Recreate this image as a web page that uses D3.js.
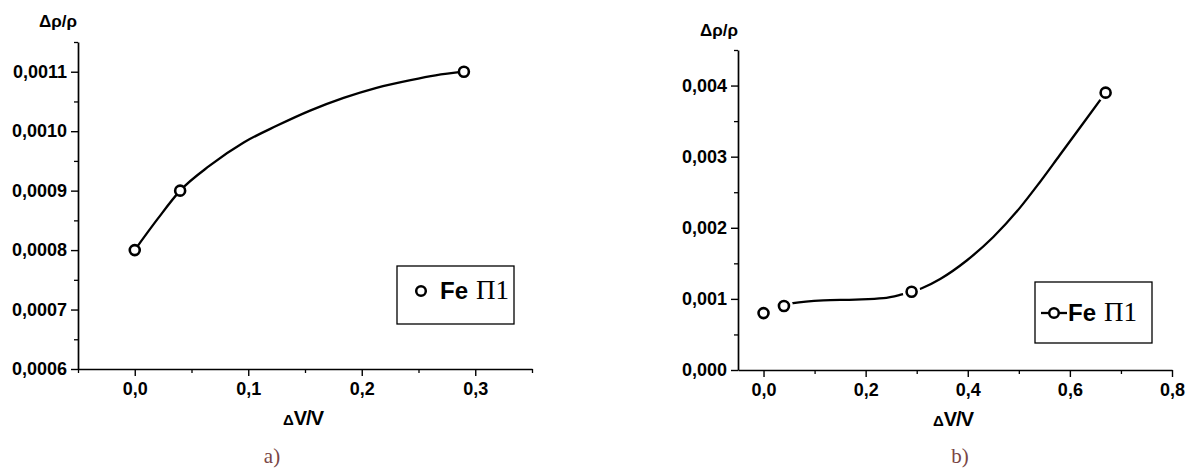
<!DOCTYPE html>
<html>
<head>
<meta charset="utf-8">
<script src="https://cdn.jsdelivr.net/npm/d3@7"></script>
<style>
  html, body { margin: 0; padding: 0; background: #fff; }
  svg { display: block; }
  .tick text { font-family: "Liberation Sans", Arial, sans-serif; font-weight: bold; font-size: 18px; fill: #000; }
</style>
</head>
<body>
<svg id="chart" width="1192" height="473"></svg>
<script>
// ---------- data ----------
// panel a)
const aX = [0, 0.04, 0.29];
const aY = [0.0008, 0.0009, 0.0011];
// fitted curve of panel a)
const aFitX = [0, 0.02, 0.04, 0.066, 0.096, 0.125, 0.155, 0.184, 0.213, 0.243, 0.265, 0.29];
const aFitY = [0.0008, 0.000852, 0.0009, 0.000942, 0.000981, 0.001009, 0.001035, 0.001056, 0.001073, 0.001086, 0.001094, 0.0011];
const aXTicks = [0, 0.1, 0.2, 0.3];
const aYTicks = [0.0006, 0.0007, 0.0008, 0.0009, 0.0010, 0.0011];

// panel b)
const bX = [0, 0.04, 0.29, 0.67];
const bY = [0.0008, 0.0009, 0.0011, 0.0039];
// fitted curve of panel b)
const bFitX = [0.04, 0.058, 0.117, 0.18, 0.235, 0.267, 0.29, 0.31, 0.346, 0.398, 0.45, 0.502, 0.54, 0.58, 0.625, 0.67];
const bFitY = [0.0009, 0.00094, 0.00098, 0.00099, 0.00101, 0.001055, 0.0011, 0.00115, 0.00128, 0.00154, 0.00187, 0.00228, 0.00263, 0.00302, 0.00346, 0.0039];
const bXTicks = [0, 0.2, 0.4, 0.6, 0.8];
const bYTicks = [0, 0.001, 0.002, 0.003, 0.004];

const seriesName = "Fe";
const seriesSuffix = "\u041F1";
const xTitle = "V/V";
const yTitle = "\u0394\u03C1/\u03C1";

// ---------- drawing ----------
const svg = d3.select("#chart");
svg.append("rect").attr("width", 1192).attr("height", 473).attr("fill", "#fff");

const comma = f => v => d3.format(f)(v).replace(".", ",");

function panel(cfg) {
  const g = svg.append("g");
  const x = d3.scaleLinear().domain(cfg.xDomain).range(cfg.xRange);
  const y = d3.scaleLinear().domain(cfg.yDomain).range(cfg.yRange);

  // minor ticks
  const xMinor = g.append("g").attr("transform", `translate(0,${cfg.yRange[0]})`)
    .call(d3.axisBottom(x).tickValues(cfg.xMinor).tickSize(4).tickFormat(""));
  const yMinor = g.append("g").attr("transform", `translate(${cfg.xRange[0]},0)`)
    .call(d3.axisLeft(y).tickValues(cfg.yMinor).tickSize(4).tickFormat(""));
  [xMinor, yMinor].forEach(a => { a.select(".domain").remove(); a.selectAll("line").attr("stroke", "#000").attr("stroke-width", 1.3); });

  const xa = g.append("g").attr("transform", `translate(0,${cfg.yRange[0]})`)
    .call(d3.axisBottom(x).tickValues(cfg.xTicks).tickSize(7).tickPadding(6).tickFormat(comma(".1f")).tickSizeOuter(0));
  const ya = g.append("g").attr("transform", `translate(${cfg.xRange[0]},0)`)
    .call(d3.axisLeft(y).tickValues(cfg.yTicks).tickSize(7).tickPadding(4).tickFormat(comma(cfg.yFmt)).tickSizeOuter(0));
  [xa, ya].forEach(a => {
    a.select(".domain").attr("stroke", "#000").attr("stroke-width", 1.7);
    a.selectAll(".tick line").attr("stroke", "#000").attr("stroke-width", 1.4);
  });

  // fitted curve
  const line = d3.line().x((d, i) => x(cfg.fitX[i])).y((d, i) => y(cfg.fitY[i])).curve(d3.curveMonotoneX);
  g.append("path").datum(cfg.fitX).attr("d", line).attr("fill", "none").attr("stroke", "#000").attr("stroke-width", 2.3);

  // gap around markers (panel b)
  if (cfg.gap) {
    g.selectAll(".mask").data(cfg.px).enter().append("circle")
      .attr("cx", (d, i) => x(cfg.px[i])).attr("cy", (d, i) => y(cfg.py[i])).attr("r", cfg.gap).attr("fill", "#fff");
  }
  // markers
  g.selectAll(".pt").data(cfg.px).enter().append("circle")
    .attr("cx", (d, i) => x(cfg.px[i])).attr("cy", (d, i) => y(cfg.py[i])).attr("r", 5)
    .attr("fill", "#fff").attr("stroke", "#000").attr("stroke-width", 2.6);

  // axis titles
  const xt = g.append("text").attr("x", (cfg.xRange[0] + cfg.xRange[1]) / 2 - 2).attr("y", cfg.yRange[0] + 56)
    .attr("text-anchor", "middle").attr("font-family", "Liberation Sans, Arial, sans-serif").attr("font-weight", "bold");
  xt.append("tspan").attr("font-size", 15).text("\u0394");
  xt.append("tspan").attr("font-size", 20).attr("letter-spacing", -1).text(xTitle);

  g.append("text").attr("x", cfg.yTitleX).attr("y", cfg.yTitleY)
    .attr("font-family", "Liberation Sans, Arial, sans-serif").attr("font-weight", "bold").attr("font-size", 17)
    .text(yTitle);

  // legend
  const L = cfg.legend;
  g.append("rect").attr("x", L.x).attr("y", L.y).attr("width", L.w).attr("height", L.h)
    .attr("fill", "#fff").attr("stroke", "#000").attr("stroke-width", 1.3);
  if (L.line) {
    g.append("line").attr("x1", L.cx - 13).attr("x2", L.cx + 13).attr("y1", L.cy).attr("y2", L.cy)
      .attr("stroke", "#000").attr("stroke-width", 2.3);
  }
  g.append("circle").attr("cx", L.cx).attr("cy", L.cy).attr("r", 4.8)
    .attr("fill", "#fff").attr("stroke", "#000").attr("stroke-width", 2.5);
  g.append("text").attr("x", L.tx).attr("y", L.ty)
    .attr("font-family", "Liberation Sans, Arial, sans-serif").attr("font-weight", "bold").attr("font-size", 24)
    .text(seriesName);
  g.append("text").attr("x", L.tx + 36).attr("y", L.ty)
    .attr("font-family", "Liberation Serif, Times New Roman, serif").attr("font-size", 27)
    .text(seriesSuffix);

  // caption
  g.append("text").attr("x", cfg.capX).attr("y", 463).attr("text-anchor", "middle")
    .attr("font-family", "Liberation Serif, serif").attr("font-size", 21).attr("fill", "#7a4545")
    .text(cfg.caption);
}

panel({
  xDomain: [-0.05, 0.35], xRange: [78, 532],
  yDomain: [0.0006, 0.00115], yRange: [369, 42],
  xTicks: aXTicks, yTicks: aYTicks,
  xMinor: [-0.05, 0.05, 0.15, 0.25, 0.35], yMinor: [0.00065, 0.00075, 0.00085, 0.00095, 0.00105, 0.00115],
  yFmt: ".4f",
  fitX: aFitX, fitY: aFitY, px: aX, py: aY, gap: 0,
  yTitleX: 39, yTitleY: 27,
  legend: { x: 397, y: 266, w: 117, h: 58, cx: 421, cy: 291, tx: 440, ty: 299, line: false },
  capX: 272, caption: "a)"
});

panel({
  xDomain: [-0.05, 0.8], xRange: [738, 1172],
  yDomain: [0, 0.0045], yRange: [370, 50],
  xTicks: bXTicks, yTicks: bYTicks,
  xMinor: [0.1, 0.3, 0.5, 0.7], yMinor: [0.0005, 0.0015, 0.0025, 0.0035, 0.0045],
  yFmt: ".3f",
  fitX: bFitX, fitY: bFitY, px: bX, py: bY, gap: 9,
  yTitleX: 700, yTitleY: 36,
  legend: { x: 1035, y: 282, w: 117, h: 61, cx: 1054, cy: 313, tx: 1068, ty: 321, line: true },
  capX: 960, caption: "b)"
});
</script>
</body>
</html>
